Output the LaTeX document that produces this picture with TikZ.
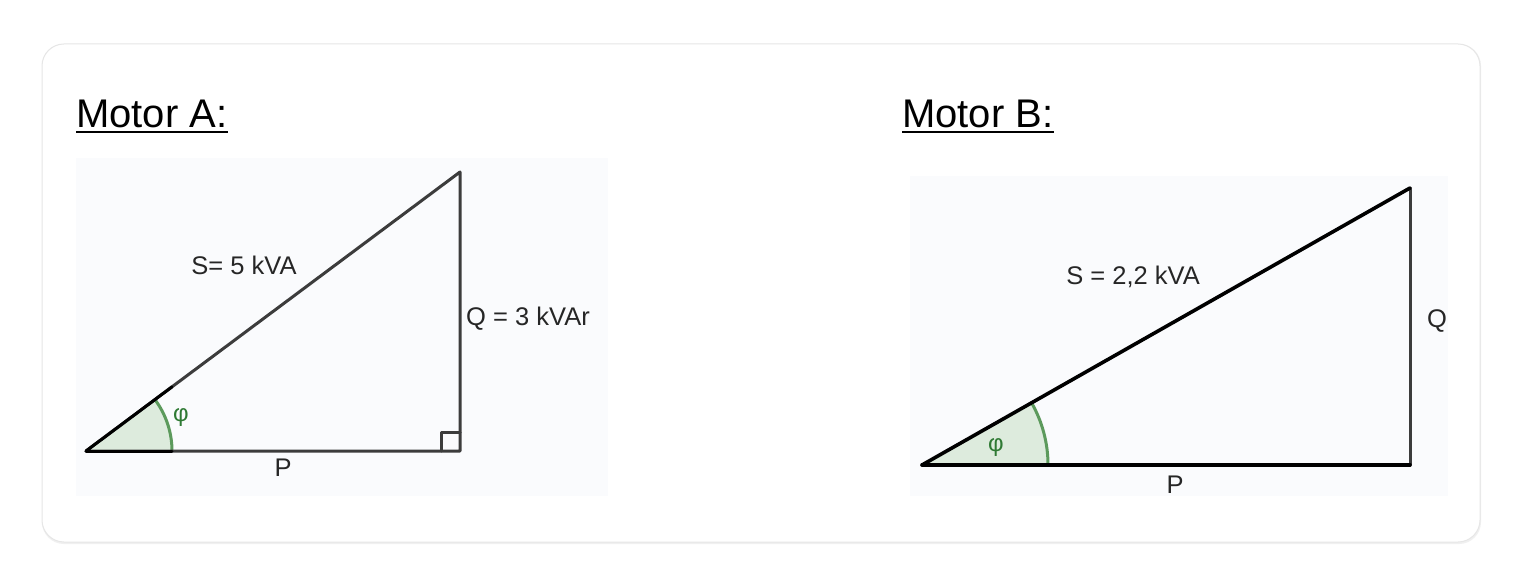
\documentclass[tikz,border=0pt]{standalone}
\usepackage{fontspec}
\setmainfont{Liberation Sans}
\usetikzlibrary{calc}
\definecolor{edgecol}{HTML}{3C3C3C}
\definecolor{arcgreen}{HTML}{5C9A5C}
\definecolor{phigreen}{HTML}{2F7A34}
\definecolor{arcfill}{HTML}{DDEBDD}
\definecolor{panelbg}{HTML}{FAFBFD}
\definecolor{cardline}{HTML}{E6E6E6}
\tikzset{
  side/.style={draw=edgecol, line width=3pt, line cap=round, line join=round},
  sideb/.style={draw=black, line width=3.6pt, line cap=round},
  anglearc/.style={draw=arcgreen, line width=3pt},
  anglefill/.style={fill=arcfill},
  lbl/.style={font=\fontsize{25.5}{28}\selectfont, text=black!85, inner sep=0pt},
  philbl/.style={font=\fontsize{24}{28}\selectfont, text=phigreen, inner sep=0pt},
  title/.style={font=\fontsize{40}{46}\selectfont, inner sep=0pt, anchor=base west},
}
\begin{document}
\begin{tikzpicture}[x=1pt,y=1pt]
\useasboundingbox (0,0) rectangle (1522,584);
\fill[white] (0,0) rectangle (1522,584);
% card with faint shadow
\fill[black!6, rounded corners=22pt] (42,40) rectangle (1481,540);
\fill[white, draw=cardline, line width=1pt, rounded corners=22pt] (42,42) rectangle (1480,540);
% panels
\fill[panelbg] (76,88) rectangle (608,426);
\fill[panelbg] (910,88) rectangle (1448,408);

% ---- Motor A ----
\node[title] (tA) at (76,456) {Motor A:};
\draw[line width=2pt] ($(tA.base west)+(0,-4)$) -- ($(tA.base east)+(0,-4)$);
\coordinate (A1) at (86,133);
\coordinate (A2) at (460,133);
\coordinate (A3) at (460,412);
\fill[anglefill] (A1) -- ++(86,0) arc[start angle=0, end angle=36.72, radius=86] -- cycle;
\draw[anglearc] ($(A1)+(86,0)$) arc[start angle=0, end angle=36.72, radius=86];
\draw[side] (441,133) -- (441,152) -- (460,152);
\draw[side] (A1) -- (A2) -- (A3) -- cycle;
\draw[black, line width=3pt, line cap=round] (A1) -- ($(A1)!0.23!(A3)$);
\draw[black, line width=3pt, line cap=round] (A1) -- ++(86,0);
\node[lbl] (SA) at (244,319) {S= 5 kVA};
\node[lbl, anchor=west] (QA) at (466,265) {Q = 3 kVAr};
\node[lbl] (PA) at (283,116) {P};
\node[philbl] (phiA) at (181,166) {φ};

% ---- Motor B ----
\node[title] (tB) at (902,456) {Motor B:};
\draw[line width=2pt] ($(tB.base west)+(0,-4)$) -- ($(tB.base east)+(0,-4)$);
\coordinate (B1) at (922,119);
\coordinate (B2) at (1410,119);
\coordinate (B3) at (1410,396);
\fill[anglefill] (B1) -- ++(126,0) arc[start angle=0, end angle=29.58, radius=126] -- cycle;
\draw[anglearc] ($(B1)+(126,0)$) arc[start angle=0, end angle=29.58, radius=126];
\draw[side] (B2) -- (B3);
\draw[sideb] (B1) -- (B2);
\draw[sideb] (B1) -- (B3);
\node[lbl] (SB) at (1133,307) {S = 2,2 kVA};
\node[lbl] (QB) at (1437,263) {Q};
\node[lbl] (PB) at (1175,99) {P};
\node[philbl] (phiB) at (996,136) {φ};
\end{tikzpicture}
\end{document}
